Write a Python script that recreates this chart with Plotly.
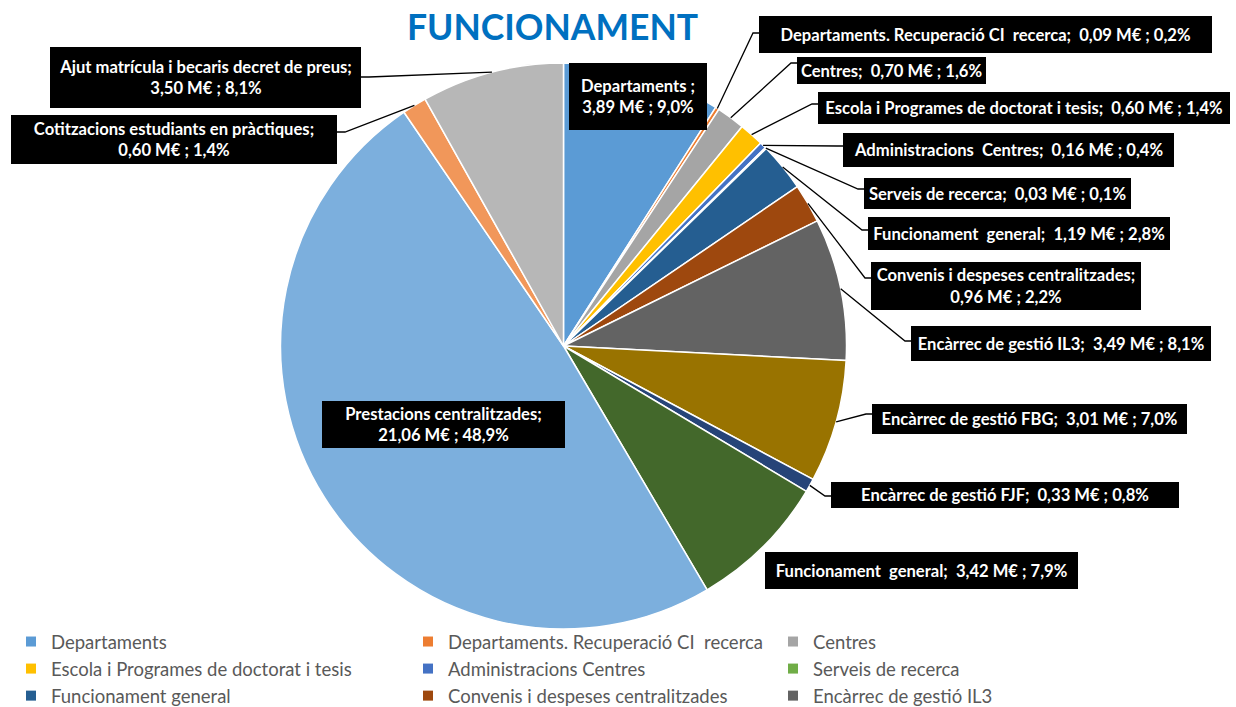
import math
import plotly.graph_objects as go

W, H = 1236, 707

# ---------------- data ----------------
categories = [
    "Departaments",
    "Departaments. Recuperació CI  recerca",
    "Centres",
    "Escola i Programes de doctorat i tesis",
    "Administracions  Centres",
    "Serveis de recerca",
    "Funcionament  general",
    "Convenis i despeses centralitzades",
    "Encàrrec de gestió IL3",
    "Encàrrec de gestió FBG",
    "Encàrrec de gestió FJF",
    "Funcionament  general",
    "Prestacions centralitzades",
    "Cotitzacions estudiants en pràctiques",
    "Ajut matrícula i becaris decret de preus",
]
values_meur = [3.89, 0.09, 0.70, 0.60, 0.16, 0.03, 1.19, 0.96, 3.49, 3.01,
               0.33, 3.42, 21.06, 0.60, 3.50]
colors = ["#5B9BD5", "#ED7D31", "#A5A5A5", "#FFC000", "#4472C4", "#70AD47",
          "#255E91", "#9E480E", "#636363", "#997300", "#264478", "#43682B",
          "#7CAFDD", "#F1975A", "#B7B7B7"]
legend_names = [
    "Departaments",
    "Departaments. Recuperació CI  recerca",
    "Centres",
    "Escola i Programes de doctorat i tesis",
    "Administracions Centres",
    "Serveis de recerca",
    "Funcionament general",
    "Convenis i despeses centralitzades",
    "Encàrrec de gestió IL3",
]
title_text = "FUNCIONAMENT"

# ---------------- layout constants (pixels) ----------------
PIE_CX, PIE_CY, PIE_R = 563.5, 346.0, 283.0
# label boxes: (x0, y0, x1, y1)
label_boxes = [
    (569, 63, 707, 130), (759, 16, 1212, 53), (797, 57, 986, 84),
    (818, 92, 1230, 124), (843, 133, 1174, 167), (864, 178, 1131, 209),
    (868, 217, 1170, 250), (871, 262, 1141, 310), (911, 326, 1211, 361),
    (872, 404, 1187, 434), (831, 482, 1179, 508), (765, 552, 1078, 589),
    (322, 401, 565, 448), (11, 115, 337, 164), (50, 47, 361, 108),
]
two_line = {0, 7, 12, 13, 14}
# leader line attach y on box edge (None = no leader)
attach_y = [None, 33, 63, 104, 146, 189, 230, 278, 341, 414, 496, None, None, 132, 77]

FONT = "Lato"


def px(x):
    return x / W


def py(y):
    return 1 - y / H


def dec(v, n):
    return f"{v:.{n}f}".replace(".", ",")


total = sum(values_meur)
pie_labels = []
seen = {}
for c in categories:
    k = seen.get(c, 0)
    pie_labels.append(c + " " * k)
    seen[c] = k + 1

fig = go.Figure()
fig.add_trace(go.Pie(
    labels=pie_labels,
    values=values_meur,
    marker=dict(colors=colors, line=dict(color="white", width=1.5)),
    sort=False,
    direction="clockwise",
    rotation=0,
    textinfo="none",
    hovertemplate="%{label}: %{value:.2f} M€ (%{percent})<extra></extra>",
    showlegend=False,
    domain=dict(x=[px(PIE_CX - PIE_R), px(PIE_CX + PIE_R)],
                y=[py(PIE_CY + PIE_R), py(PIE_CY - PIE_R)]),
))

# legend entries (first 9 categories) in three columns
legend_keys = ["legend", "legend2", "legend3"]
for i, name in enumerate(legend_names):
    fig.add_trace(go.Scatter(
        x=[None], y=[None], mode="markers", name=name,
        marker=dict(symbol="square", size=10, color=colors[i]),
        legend=legend_keys[i % 3], hoverinfo="skip",
    ))

annotations = []
shapes = []
cum = 0.0
for i, v in enumerate(values_meur):
    frac_mid = (cum + v / 2) / total
    cum += v
    pct = v / total * 100
    name = categories[i]
    if i == 0:
        txt = f"{name} ;<br>{dec(v, 2)} M€ ; {dec(pct, 1)}%"
    elif i in two_line:
        txt = f"{name};<br>{dec(v, 2)} M€ ; {dec(pct, 1)}%"
    else:
        txt = f"{name};  {dec(v, 2)} M€ ; {dec(pct, 1)}%"
    x0, y0, x1, y1 = label_boxes[i]
    annotations.append(dict(
        x=px((x0 + x1) / 2), y=py((y0 + y1) / 2), xref="paper", yref="paper",
        xanchor="center", yanchor="middle", showarrow=False,
        text=txt, align="center", valign="middle",
        width=x1 - x0, height=y1 - y0, borderpad=0,
        bgcolor="black", borderwidth=0,
        font=dict(family=FONT, size=16.6, color="white", weight="bold"),
    ))
    if attach_y[i] is not None:
        ang = frac_mid * 2 * math.pi
        ax = PIE_CX + PIE_R * math.sin(ang)
        ay = PIE_CY - PIE_R * math.cos(ang)
        ty = attach_y[i]
        if (x0 + x1) / 2 > PIE_CX:
            ex, bx = x0 - 6, x0
        else:
            ex, bx = x1 + 8, x1
        path = (f"M {px(ax)},{py(ay)} L {px(ex)},{py(ty)} L {px(bx)},{py(ty)}")
        shapes.append(dict(type="path", path=path, xref="paper", yref="paper",
                           line=dict(color="black", width=1.3)))

annotations.append(dict(
    x=px(552), y=py(27), xref="paper", yref="paper", xanchor="center",
    yanchor="middle", showarrow=False, text=title_text,
    font=dict(family=FONT, size=35.5, color="#0070C0", weight="bold"),
))

legend_common = dict(
    orientation="v", xanchor="left", yanchor="top",
    yref="container", xref="container", y=py(623),
    font=dict(family=FONT, size=18.5, color="#595959"),
    bgcolor="rgba(0,0,0,0)", tracegroupgap=0, itemwidth=30,
)
fig.update_layout(
    width=W, height=H,
    margin=dict(l=0, r=0, t=0, b=0, autoexpand=False),
    paper_bgcolor="white", plot_bgcolor="white",
    xaxis=dict(visible=False), yaxis=dict(visible=False),
    showlegend=True,
    legend=dict(x=px(11), **legend_common),
    legend2=dict(x=px(408), **legend_common),
    legend3=dict(x=px(773), **legend_common),
    annotations=annotations,
    shapes=shapes,
)

fig.write_html(
    "out.html",
    config={"displayModeBar": False},
    post_script="document.body.style.margin='0';document.body.style.overflow='hidden';",
)
